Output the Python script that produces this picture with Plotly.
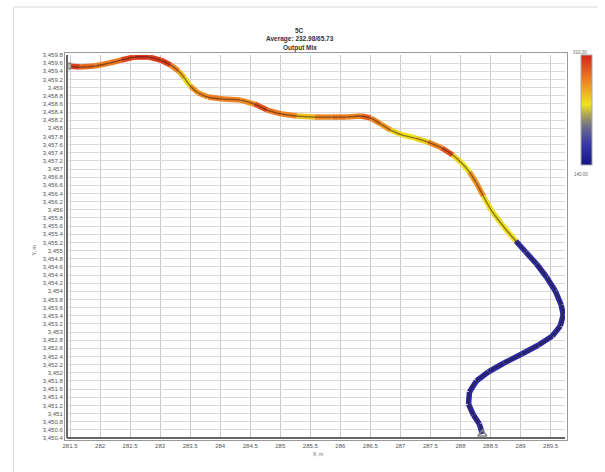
import plotly.graph_objects as go
from plotly.colors import sample_colorscale

# Track coordinates (easting / northing, m) and the measured output-mix value at each station
easting = [281.467, 281.664, 281.911, 282.157, 282.354, 282.567, 282.814, 283.011, 283.175, 283.306,
           283.405, 283.503, 283.635, 283.799, 284.045, 284.341, 284.571, 284.784, 285.030, 285.277,
           285.572, 285.851, 286.098, 286.344, 286.508, 286.672, 286.837, 287.034, 287.247, 287.460,
           287.690, 287.871, 288.019, 288.150, 288.265, 288.380, 288.511, 288.659, 288.791, 288.922,
           289.086, 289.267, 289.431, 289.579, 289.677, 289.710, 289.661, 289.530, 289.300, 289.020,
           288.725, 288.462, 288.265, 288.150, 288.134, 288.216, 288.314, 288.364]
northing = [3459.529, 3459.504, 3459.529, 3459.603, 3459.676, 3459.750, 3459.750, 3459.676, 3459.553, 3459.406,
            3459.234, 3459.038, 3458.866, 3458.768, 3458.719, 3458.695, 3458.596, 3458.449, 3458.351, 3458.302,
            3458.277, 3458.277, 3458.277, 3458.302, 3458.253, 3458.106, 3457.958, 3457.836, 3457.762, 3457.664,
            3457.517, 3457.345, 3457.149, 3456.928, 3456.658, 3456.339, 3455.995, 3455.701, 3455.455, 3455.234,
            3454.964, 3454.670, 3454.351, 3454.007, 3453.664, 3453.418, 3453.148, 3452.903, 3452.682, 3452.461,
            3452.241, 3452.020, 3451.799, 3451.529, 3451.234, 3450.964, 3450.744, 3450.498]
output_mix = [298, 280, 272, 275, 296, 302, 300, 298, 270, 250,
              236, 262, 268, 272, 270, 266, 292, 274, 270, 246,
              268, 272, 270, 284, 270, 262, 238, 234, 240, 268,
              290, 238, 234, 262, 266, 236, 232, 234, 236, 162,
              160, 158, 160, 158, 160, 158, 160, 158, 160, 158,
              160, 158, 160, 158, 160, 158, 162, 164]

value_min, value_max = 140.0, 310.0
colorscale = [[0.0, "#141488"], [0.2, "#3a3aa8"], [0.35, "#6e6e8a"], [0.45, "#a8a058"],
              [0.55, "#eee31e"], [0.75, "#f08a22"], [1.0, "#d4241a"]]

title_lines = ["5C", "Average: 232.98/65.73", "Output Mix"]
x_title, y_title = "X, m", "Y, m"

# plot-area geometry in pixels (605 x 472 canvas)
W, H = 605, 472
L, R, T, B = 67, 33, 55, 34
pw, ph = W - L - R, H - T - B


def px(xp):
    return (xp - L) / pw


def py(yp):
    return (H - B - yp) / ph


fig = go.Figure()

# coloured track, one short segment per station
for i in range(len(easting) - 1):
    t = (output_mix[i] - value_min) / (value_max - value_min)
    col = sample_colorscale(colorscale, [min(max(t, 0), 1)])[0]
    fig.add_trace(go.Scatter(x=easting[i:i + 2], y=northing[i:i + 2], mode="lines",
                             line=dict(color=col, width=5.5), hoverinfo="skip", showlegend=False))

# dark centre line along the track
fig.add_trace(go.Scatter(x=easting, y=northing, mode="lines",
                         line=dict(color="rgba(50,25,20,0.55)", width=1.3, shape="spline"),
                         hoverinfo="skip", showlegend=False))

# start / end markers
fig.add_trace(go.Scatter(x=[easting[0]], y=[northing[0]], mode="markers",
                         marker=dict(symbol="square", size=6, color="#b8b8b8", line=dict(color="#777", width=1)),
                         showlegend=False, hoverinfo="skip"))
fig.add_trace(go.Scatter(x=[easting[-1]], y=[northing[-1]], mode="markers",
                         marker=dict(symbol="triangle-up-open", size=8, color="#888", line=dict(width=1.5)),
                         showlegend=False, hoverinfo="skip"))

# colour bar carrier
fig.add_trace(go.Scatter(x=[easting[0]], y=[northing[0]], mode="markers", opacity=0,
                         marker=dict(color=[value_min], cmin=value_min, cmax=value_max, colorscale=colorscale,
                                     showscale=True,
                                     colorbar=dict(x=px(588), xanchor="left", y=1.0, yanchor="top",
                                                   lenmode="pixels", len=110, thickness=11, xpad=0, ypad=0,
                                                   showticklabels=False, ticks="",
                                                   outlinewidth=1, outlinecolor="#aaaaaa")),
                         showlegend=False, hoverinfo="skip"))

axis_font = dict(family="Liberation Sans, Arial, sans-serif", size=6, color="#555")
fig.update_xaxes(range=[281.45, 289.74], dtick=0.5, tick0=281.5, tickformat=".1~f",
                 showgrid=True, gridcolor="#c9c9c9", gridwidth=1, zeroline=False,
                 showline=True, linecolor="#999", linewidth=1, mirror=True, ticks="",
                 tickfont=axis_font)
fig.update_yaxes(range=[3450.4, 3459.8], dtick=0.2, tick0=3450.4, tickformat=",.1~f",
                 showgrid=True, gridcolor="#dadada", gridwidth=1, zeroline=False,
                 showline=True, linecolor="#999", linewidth=1, mirror=True, ticks="",
                 tickfont=axis_font)

shapes = [
    # outer card edges
    dict(type="line", xref="paper", yref="paper", x0=px(13), x1=px(W), y0=py(7), y1=py(7),
         line=dict(color="#d6d6d6", width=1)),
    dict(type="line", xref="paper", yref="paper", x0=px(13), x1=px(13), y0=py(7), y1=py(H),
         line=dict(color="#d6d6d6", width=1)),
    # heavier left and bottom axis lines
    dict(type="line", xref="paper", yref="paper", x0=0, x1=0, y0=0, y1=1, line=dict(color="#666", width=2)),
    dict(type="line", xref="paper", yref="paper", x0=0, x1=1, y0=0, y1=0, line=dict(color="#666", width=2)),
]

title_font = dict(family="Liberation Sans, Arial, sans-serif", size=6.5, color="#333")
annotations = []
for text, yp in zip(title_lines, [30, 39, 48]):
    annotations.append(dict(text=f"<b>{text}</b>", x=px(303), y=py(yp), xref="paper", yref="paper",
                            showarrow=False, font=title_font, xanchor="center", yanchor="middle"))
annotations += [
    dict(text=x_title, x=px(322), y=py(459), xref="paper", yref="paper", showarrow=False,
         font=dict(family="Liberation Sans, Arial, sans-serif", size=5, color="#666")),
    dict(text=y_title, x=px(28), y=py(250), xref="paper", yref="paper", showarrow=False, textangle=-90,
         font=dict(family="Liberation Sans, Arial, sans-serif", size=5.5, color="#666")),
    dict(text=f"{value_max:.2f}", x=px(596), y=py(48), xref="paper", yref="paper", showarrow=False,
         font=dict(family="Liberation Sans, Arial, sans-serif", size=4.5, color="#666")),
    dict(text=f"{value_min:.2f}", x=px(597), y=py(170), xref="paper", yref="paper", showarrow=False,
         font=dict(family="Liberation Sans, Arial, sans-serif", size=4.5, color="#666")),
]

fig.update_layout(width=W, height=H, margin=dict(l=L, r=R, t=T, b=B, pad=2),
                  paper_bgcolor="white", plot_bgcolor="white",
                  shapes=shapes, annotations=annotations, showlegend=False)

fig.write_html("out.html")
